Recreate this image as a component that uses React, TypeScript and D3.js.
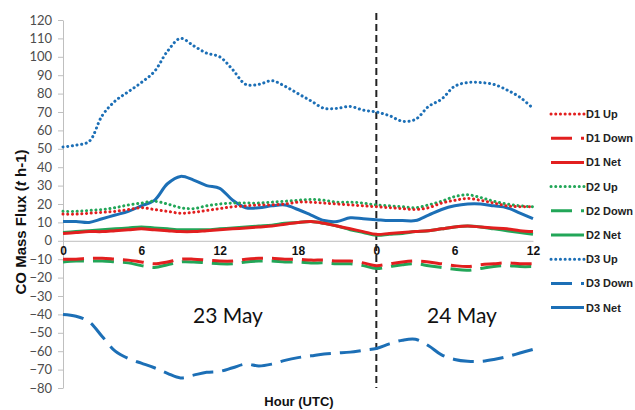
import React, { useEffect, useRef } from 'react';
import * as d3 from 'd3';

// hourly values, 23 May 00 UTC -> 24 May 12 UTC
const hours = d3.range(0, 37);
const tickHours = [0, 6, 12, 18, 24, 30, 36];
const yTicks = d3.range(-80, 121, 10);

const d1Up = [14.5, 14.5, 15, 15.5, 16, 17, 18, 17, 16, 15, 15.5, 16.5, 17.5, 18.5, 19, 19.5, 19.5, 20, 21, 21, 20.5, 20, 19.5, 19, 18.5, 18, 17.5, 17, 18, 20.5, 22, 23, 22, 20.5, 19, 18.5, 18.5];
const d1Down = [-10, -10, -9.5, -9.5, -10, -10.5, -11.5, -12.5, -11.5, -10, -10, -10.5, -11, -11, -10, -9.5, -9.5, -10, -10, -10.5, -10.5, -11, -11, -12, -13.5, -12.5, -11.5, -11, -11.5, -12.5, -13.5, -14, -13, -12.5, -12, -12.5, -12.5];
const d1Net = [4, 4.5, 5, 5, 5.5, 6, 6.5, 6, 5.5, 5, 5, 5.5, 6, 6.5, 7, 7.5, 8, 9, 10, 10.5, 9.5, 8, 6.5, 5, 3.5, 4, 4.5, 5, 5.5, 6.5, 7.5, 8, 7.5, 7, 6.5, 5.5, 5];
const d2Up = [16, 16, 16.5, 17, 18, 19.5, 20.5, 21.5, 20, 18, 17.5, 19, 20, 20.5, 20.5, 20.5, 21, 21.5, 22, 22.5, 22, 21, 21, 20.5, 19.5, 19, 18.5, 18, 19.5, 21.5, 24, 25, 23.5, 21.5, 20, 19, 18.5];
const d2Down = [-11.5, -11, -11, -11, -11.5, -12, -13.5, -14.5, -13, -11.5, -11.5, -12, -12.5, -12.5, -11.5, -11, -11, -11.5, -11.5, -12, -12, -12.5, -12.5, -13.5, -15, -14, -13, -12.5, -13.5, -14.5, -15.5, -16, -15, -14, -13.5, -14, -14];
const d2Net = [4.5, 5, 5.5, 6, 6.5, 7, 7.5, 7, 6.5, 6, 6, 6, 6.5, 7, 7.5, 8, 8.5, 9.5, 10, 10.5, 9.5, 8, 6, 4.5, 3, 3.5, 4, 5, 5.5, 6.5, 7.5, 8, 7.5, 6.5, 5.5, 4.5, 3.5];
const d3Up = [51, 52, 54, 68, 76, 81, 86, 92, 103, 110, 106, 102, 100, 93, 85, 85, 87, 84, 80, 76, 72, 72, 73, 71, 70, 68, 65, 66, 73, 77, 84, 86, 86, 85, 82, 78, 72];
const d3Down = [-40, -41, -44, -52, -60, -64, -66.5, -69, -72, -74.5, -73, -71.5, -71, -69, -67, -68, -67, -65, -63.5, -62.5, -61.5, -61, -60.5, -59.5, -58.5, -56, -54, -53.5, -57, -62, -64.5, -65.5, -65.5, -64.5, -63, -61, -59];
const d3Net = [10.5, 10.5, 10, 12, 14, 16, 19, 22, 31, 35, 33, 30, 28.5, 22, 18, 18, 19, 19.5, 17, 14, 11, 10.5, 12.5, 12, 11.5, 11, 11, 11, 14, 17, 19, 20, 20, 19, 18, 15, 12];

const RED = '#e21f1f';
const GREEN = '#22a658';
const BLUE = '#1c6fb6';
const DOT = '0.1 4.6';
const DASH = '21 9';

const series = [
  { name: 'D1 Up', values: d1Up, color: RED, dash: DOT },
  { name: 'D1 Down', values: d1Down, color: RED, dash: DASH },
  { name: 'D1 Net', values: d1Net, color: RED, dash: null },
  { name: 'D2 Up', values: d2Up, color: GREEN, dash: DOT },
  { name: 'D2 Down', values: d2Down, color: GREEN, dash: DASH },
  { name: 'D2 Net', values: d2Net, color: GREEN, dash: null },
  { name: 'D3 Up', values: d3Up, color: BLUE, dash: DOT },
  { name: 'D3 Down', values: d3Down, color: BLUE, dash: DASH },
  { name: 'D3 Net', values: d3Net, color: BLUE, dash: null },
];

export default function App() {
  const svgRef = useRef(null);
  const width = 635;
  const height = 410;

  useEffect(() => {
    const svg = d3.select(svgRef.current);
    svg.selectAll('*').remove();

    const x = d3.scaleLinear().domain([0, 36]).range([63, 533]);
    const y = d3.scaleLinear().domain([-80, 120]).range([388, 20]);

    // y axis
    const yAxis = svg
      .append('g')
      .attr('transform', `translate(${x(0)},0)`)
      .call(d3.axisLeft(y).tickValues(yTicks).tickSize(5).tickSizeOuter(0).tickPadding(6));
    yAxis.select('.domain').attr('stroke', '#bfbfbf');
    yAxis.selectAll('.tick line').attr('stroke', '#bfbfbf');
    yAxis
      .selectAll('.tick text')
      .attr('fill', '#4d4d4d')
      .attr('font-size', 13)
      .attr('font-family', 'Lato, sans-serif');

    // x axis on the zero line
    const xAxis = svg
      .append('g')
      .attr('transform', `translate(0,${y(0)})`)
      .call(
        d3
          .axisBottom(x)
          .tickValues(tickHours)
          .tickFormat((d) => String(+d % 24))
          .tickSize(0)
          .tickPadding(6)
      );
    xAxis.select('.domain').attr('stroke', '#bfbfbf');
    xAxis
      .selectAll('.tick text')
      .attr('fill', '#111')
      .attr('font-size', 12)
      .attr('font-weight', 'bold')
      .attr('font-family', '"Liberation Sans", Arial, sans-serif');

    // day boundary
    svg
      .append('line')
      .attr('x1', x(24))
      .attr('x2', x(24))
      .attr('y1', 13)
      .attr('y2', 388)
      .attr('stroke', '#222')
      .attr('stroke-width', 2)
      .attr('stroke-dasharray', '7 4');

    const line = d3
      .line<number>()
      .x((_, i) => x(hours[i]))
      .y((d) => y(d))
      .curve(d3.curveCatmullRom.alpha(0.5));

    // draw order: D3 first so red/green stay visible on top
    const order = [6, 7, 8, 3, 4, 5, 0, 1, 2];
    order.forEach((k) => {
      const s = series[k];
      svg
        .append('path')
        .datum(s.values)
        .attr('d', line)
        .attr('fill', 'none')
        .attr('stroke', s.color)
        .attr('stroke-width', 3)
        .attr('stroke-linecap', s.dash === DOT ? 'round' : 'butt')
        .attr('stroke-dasharray', s.dash);
    });

    // legend
    const lg = svg.append('g').attr('transform', 'translate(551,114)');
    series.forEach((s, i) => {
      const row = lg.append('g').attr('transform', `translate(0,${i * 24.2})`);
      row
        .append('line')
        .attr('x1', 0)
        .attr('x2', 33)
        .attr('stroke', s.color)
        .attr('stroke-width', 3)
        .attr('stroke-linecap', s.dash === DOT ? 'round' : 'butt')
        .attr('stroke-dasharray', s.dash);
      row
        .append('text')
        .attr('x', 35)
        .attr('y', 4)
        .attr('font-size', 11)
        .attr('font-weight', 'bold')
        .attr('font-family', '"Liberation Sans", Arial, sans-serif')
        .attr('fill', '#222')
        .text(s.name);
    });

    // day labels
    svg
      .append('text')
      .attr('x', 193)
      .attr('y', 323)
      .attr('font-size', 21)
      .attr('font-family', 'Lato, sans-serif')
      .attr('fill', '#111')
      .text('23 May');
    svg
      .append('text')
      .attr('x', 427)
      .attr('y', 323)
      .attr('font-size', 21)
      .attr('font-family', 'Lato, sans-serif')
      .attr('fill', '#111')
      .text('24 May');

    // axis titles
    const yTitle = svg
      .append('text')
      .attr('transform', 'translate(26,222) rotate(-90)')
      .attr('text-anchor', 'middle')
      .attr('font-size', 15)
      .attr('font-weight', 'bold')
      .attr('font-family', '"Liberation Sans", Arial, sans-serif')
      .attr('fill', '#111');
    yTitle.append('tspan').text('CO Mass Flux (');
    yTitle.append('tspan').attr('font-style', 'italic').text('t');
    yTitle.append('tspan').text(' h-1)');

    svg
      .append('text')
      .attr('x', 299)
      .attr('y', 406)
      .attr('text-anchor', 'middle')
      .attr('font-size', 13)
      .attr('font-weight', 'bold')
      .attr('font-family', '"Liberation Sans", Arial, sans-serif')
      .attr('fill', '#111')
      .text('Hour (UTC)');
  }, []);

  return (
    <svg
      ref={svgRef}
      width={width}
      height={height}
      style={{ position: 'absolute', left: 0, top: 0, background: '#fff' }}
    />
  );
}
